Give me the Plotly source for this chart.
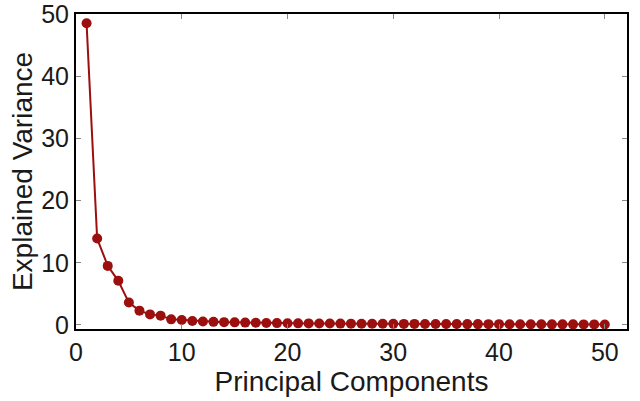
import plotly.graph_objects as go

# explained variance per principal component
components = list(range(1, 51))
variance = [
    48.5, 13.9, 9.5, 7.1, 3.6, 2.3, 1.7, 1.5, 0.9, 0.8,
    0.65, 0.55, 0.5, 0.45, 0.42, 0.38, 0.35, 0.32, 0.3, 0.28,
    0.26, 0.25, 0.24, 0.23, 0.22, 0.21, 0.2, 0.2, 0.19, 0.18,
    0.17, 0.17, 0.16, 0.16, 0.15, 0.15, 0.14, 0.14, 0.13, 0.13,
    0.12, 0.12, 0.11, 0.11, 0.1, 0.1, 0.1, 0.09, 0.09, 0.08,
]
x_ticks = [0, 10, 20, 30, 40, 50]
y_ticks = [0, 10, 20, 30, 40, 50]

red = "#9b0f0f"
font_family = "Liberation Sans, Arial"

fig = go.Figure()
fig.add_trace(go.Scatter(
    x=components,
    y=variance,
    mode="lines+markers",
    line=dict(color=red, width=2),
    marker=dict(color=red, size=10),
    showlegend=False,
))

axis_style = dict(
    showline=True,
    linecolor="black",
    linewidth=2,
    mirror="allticks",
    ticks="inside",
    ticklen=5,
    tickwidth=1,
    tickcolor="#888",
    showgrid=False,
    zeroline=False,
    automargin=False,
    ticklabeloverflow="allow",
    tickfont=dict(family=font_family, size=25, color="#1a1a1a"),
)

fig.update_xaxes(
    **axis_style,
    range=[0, 52.1],
    tickvals=x_ticks,
    title=dict(text="Principal Components", standoff=2,
               font=dict(family=font_family, size=28, color="#1a1a1a")),
)
fig.update_yaxes(
    **axis_style,
    range=[-0.65, 50],
    tickvals=y_ticks,
    title=dict(text="Explained Variance", standoff=0,
               font=dict(family=font_family, size=28, color="#1a1a1a")),
)

fig.update_layout(
    width=640,
    height=401,
    margin=dict(l=76, r=13, t=14, b=72),
    plot_bgcolor="white",
    paper_bgcolor="white",
)

# drop the browser's default page margin so the figure sits at the corner
fig.write_html(
    "out.html",
    config={"displayModeBar": False},
    post_script="document.body.style.margin='0';",
)
